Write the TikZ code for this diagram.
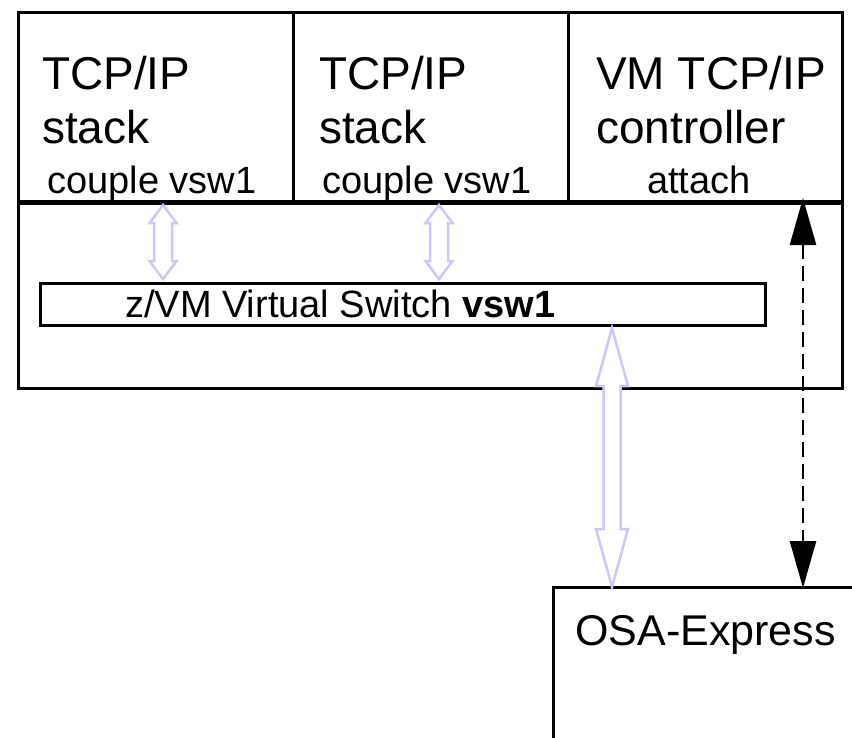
\documentclass[tikz,border=0pt]{standalone}
\usepackage{fontspec}
\setmainfont{Liberation Sans}
\usetikzlibrary{arrows.meta}
\definecolor{arrowblue}{RGB}{200,200,255}
\newcommand\hollowarr[6]{%
  \draw[bluearrow] (#1,#2) -- ({#1+#5},{#2+#6}) -- ({#1+#4},{#2+#6}) -- ({#1+#4},{#3-#6}) -- ({#1+#5},{#3-#6}) -- (#1,#3)
    -- ({#1-#5},{#3-#6}) -- ({#1-#4},{#3-#6}) -- ({#1-#4},{#2+#6}) -- ({#1-#5},{#2+#6}) -- cycle;}
\tikzset{
  boxline/.style={draw=black, line width=3pt, fill=none},
  bigtxt/.style={anchor=base west, inner sep=0pt, font=\fontsize{46}{50}\selectfont},
  smalltxt/.style={anchor=base west, inner sep=0pt, font=\fontsize{38}{42}\selectfont},
  osatxt/.style={anchor=base west, inner sep=0pt, font=\fontsize{43}{47}\selectfont},
  bluearrow/.style={draw=arrowblue, line width=2.5pt, fill=white, line join=miter},
  ctrlarrow/.style={draw=black, line width=2.5pt, dash pattern=on 15pt off 7pt,
    {Triangle[length=47pt,width=26pt]}-{Triangle[length=47pt,width=26pt]}},
}
\begin{document}
\begin{tikzpicture}[x=1pt,y=-1pt]
\useasboundingbox (0,0) rectangle (852,737);
% lower VM area
\node[boxline, minimum width=824pt, minimum height=187pt, inner sep=0pt] (vm) at (430,294.5) {};
% guest columns
\node[boxline, minimum width=275pt, minimum height=189pt, inner sep=0pt] (g1) at (155.5,106.5) {};
\node[boxline, minimum width=275pt, minimum height=189pt, inner sep=0pt] (g2) at (430.5,106.5) {};
\node[boxline, minimum width=274pt, minimum height=189pt, inner sep=0pt] (g3) at (705,106.5) {};
\draw[line width=5pt] (g1.south west) -- (g3.south east);
% virtual switch
\node[boxline, minimum width=725pt, minimum height=42pt, inner sep=0pt] (vsw) at (402.5,304) {};
% OSA-Express (extends beyond the picture)
\coordinate (osabl) at (553,760);
\coordinate (osatl) at (553,587);
\coordinate (osatr) at (880,587);
\draw[line width=3pt] (osabl) -- (osatl) -- (osatr);
% texts
\node[bigtxt] (t1a) at (42,89) {TCP/IP};
\node[bigtxt] (t1b) at (42,143) {stack};
\node[smalltxt] (t1c) at (47,193) {couple vsw1};
\node[bigtxt] (t2a) at (319,89) {TCP/IP};
\node[bigtxt] (t2b) at (319,143) {stack};
\node[smalltxt] (t2c) at (322,193) {couple vsw1};
\node[bigtxt] (t3a) at (596,89) {VM TCP/IP};
\node[bigtxt] (t3b) at (596,143) {controller};
\node[smalltxt] (t3c) at (647,193) {attach};
\node[smalltxt] (vswt) at (125,317) {z/VM Virtual Switch \textbf{vsw1}};
\node[osatxt] (osat) at (575,645) {OSA-Express};
% blue hollow double arrows
\hollowarr{163}{205}{279}{9}{13.5}{18}
\hollowarr{439}{205}{279}{9}{13.5}{18}
\hollowarr{612}{328}{587}{8.5}{16}{58}
% controller attach arrow
\coordinate (ctop) at (803,198);
\coordinate (cbot) at (803,588);
\draw[ctrlarrow] (ctop) -- (cbot);
\end{tikzpicture}
\end{document}
